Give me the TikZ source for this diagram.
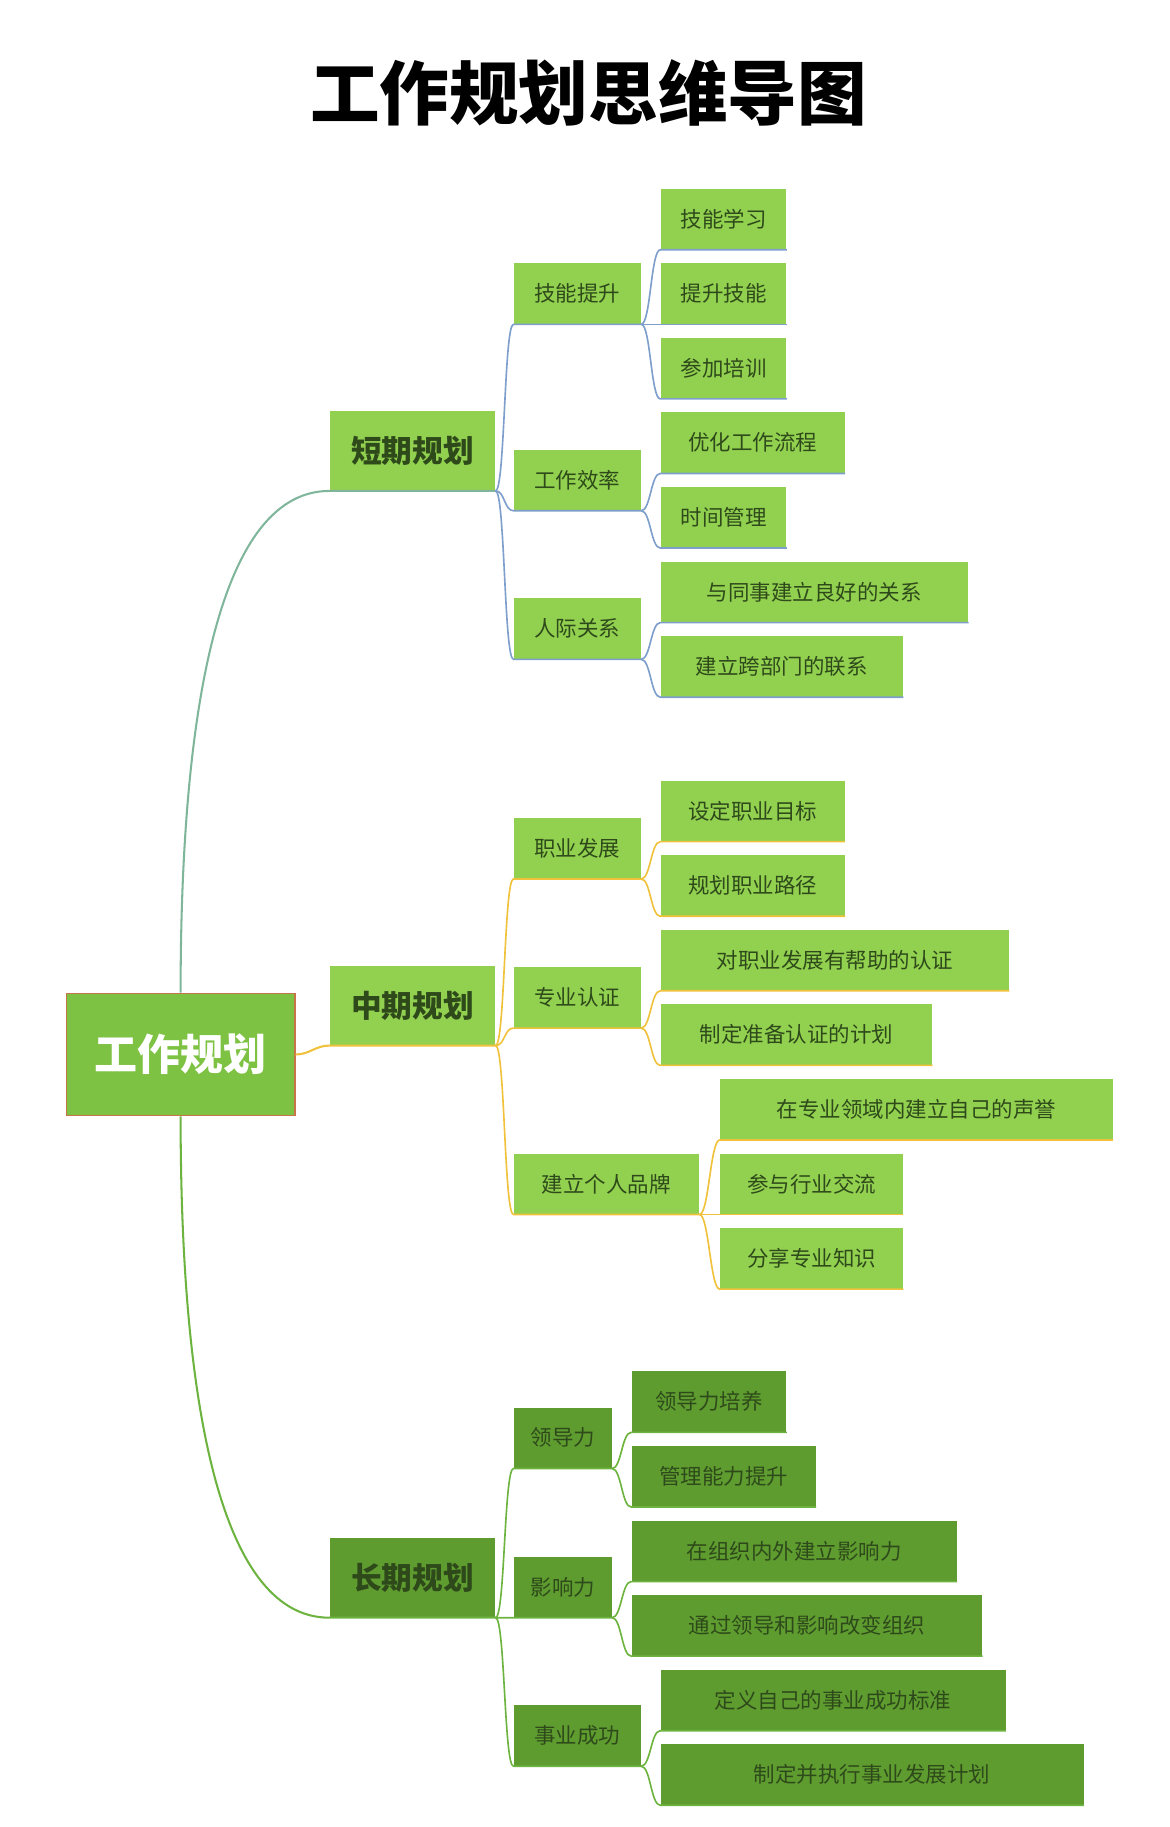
\documentclass[tikz,border=0pt]{standalone}
\usepackage{fontspec}
\setmainfont{Noto Sans CJK SC}
\usepackage{tikz}
\definecolor{leafgreen}{HTML}{92D050}
\definecolor{midgreen}{HTML}{7DC242}
\definecolor{darkleaf}{HTML}{5E9C30}
\definecolor{txtgreen}{HTML}{2E4A1A}
\definecolor{shortline}{HTML}{7E9FCB}
\definecolor{midline}{HTML}{F0C23C}
\definecolor{longline}{HTML}{6DB33F}
\definecolor{rootline}{HTML}{7FB59A}
\definecolor{rootedge}{HTML}{C8744A}

\begin{document}
\begin{tikzpicture}[
      x=0.02cm, y=-0.02cm,
      box/.style={fill=leafgreen, text=txtgreen, inner sep=0pt, font=\fontsize{10.5}{12}\selectfont},
      leaf/.style={box, minimum height=1.04cm},
      darkbox/.style={box, fill=darkleaf},
      topic/.style={box, minimum height=1.36cm, minimum width=2.84cm, font=\fontsize{15}{17}\bfseries\selectfont},
      sub/.style={box, minimum height=1.04cm},
      sline/.style={shortline, line width=0.8pt},
      mline/.style={midline, line width=0.8pt},
      lline/.style={longline, line width=0.8pt}
    ]
    \useasboundingbox (0,0) rectangle (1004,1568);

    % Title
    \node[font=\fontsize{34}{38}\bfseries\selectfont] (title) at (505,80) {工作规划思维导图};

    % Root
    \node[box, fill=midgreen, draw=rootedge, line width=0.8pt, text=white,
      minimum width=3.92cm, minimum height=2.1cm, font=\fontsize{21}{24}\bfseries\selectfont]
      (root) at (155,905) {工作规划};

    % Topics
    \node[topic] (short) at (354,387) {短期规划};
    \node[topic] (mid) at (354,863) {中期规划};
    \node[topic, fill=darkleaf] (long) at (354,1354) {长期规划};

    % Short term
    \node[sub, minimum width=2.18cm] (skill) at (495.5,252) {技能提升};
    \node[sub, minimum width=2.18cm] (effic) at (495.5,412) {工作效率};
    \node[sub, minimum width=2.18cm] (relat) at (495.5,539.5) {人际关系};
    \node[leaf, minimum width=2.16cm] (s1) at (621,188) {技能学习};
    \node[leaf, minimum width=2.16cm] (s2) at (621,252) {提升技能};
    \node[leaf, minimum width=2.16cm] (s3) at (621,316) {参加培训};
    \node[leaf, minimum width=3.16cm] (e1) at (646,380) {优化工作流程};
    \node[leaf, minimum width=2.16cm] (e2) at (621,444) {时间管理};
    \node[leaf, minimum width=5.28cm] (r1) at (699,508) {与同事建立良好的关系};
    \node[leaf, minimum width=4.16cm] (r2) at (671,572) {建立跨部门的联系};

    % Mid term
    \node[sub, minimum width=2.18cm] (career) at (495.5,728) {职业发展};
    \node[sub, minimum width=2.18cm] (cert) at (495.5,856) {专业认证};
    \node[sub, minimum width=3.18cm] (brand) at (520.5,1016) {建立个人品牌};
    \node[leaf, minimum width=3.16cm] (c1) at (646,696) {设定职业目标};
    \node[leaf, minimum width=3.16cm] (c2) at (646,760) {规划职业路径};
    \node[leaf, minimum width=5.98cm] (t1) at (716.5,824) {对职业发展有帮助的认证};
    \node[leaf, minimum width=4.66cm] (t2) at (683.5,888) {制定准备认证的计划};
    \node[leaf, minimum width=6.74cm] (b1) at (786.5,952) {在专业领域内建立自己的声誉};
    \node[leaf, minimum width=3.14cm] (b2) at (696.5,1016) {参与行业交流};
    \node[leaf, minimum width=3.14cm] (b3) at (696.5,1080) {分享专业知识};

    % Long term
    \node[darkbox, minimum height=1.04cm, minimum width=1.68cm] (lead) at (483,1234) {领导力};
    \node[darkbox, minimum height=1.04cm, minimum width=1.68cm] (infl) at (483,1362) {影响力};
    \node[darkbox, minimum height=1.04cm, minimum width=2.18cm] (succ) at (495.5,1489.5) {事业成功};
    \node[darkbox, minimum height=1.04cm, minimum width=2.66cm] (l1) at (608.5,1203) {领导力培养};
    \node[darkbox, minimum height=1.04cm, minimum width=3.16cm] (l2) at (621,1267) {管理能力提升};
    \node[darkbox, minimum height=1.04cm, minimum width=5.58cm] (i1) at (681.5,1331) {在组织内外建立影响力};
    \node[darkbox, minimum height=1.04cm, minimum width=6.02cm] (i2) at (692.5,1395) {通过领导和影响改变组织};
    \node[darkbox, minimum height=1.04cm, minimum width=5.92cm] (u1) at (715,1459) {定义自己的事业成功标准};
    \node[darkbox, minimum height=1.04cm, minimum width=7.26cm] (u2) at (748.5,1523) {制定并执行事业发展计划};

    % Root branches
    \draw[rootline, line width=1pt] (root.north) .. controls +(0,-260) and +(-90,0) .. (short.south west) -- (short.south east);
    \draw[midline, line width=1pt] (root.east) .. controls +(12,0) and +(-12,0) .. (mid.south west) -- (mid.south east);
    \draw[longline, line width=1pt] (root.south) .. controls +(0,260) and +(-90,0) .. (long.south west) -- (long.south east);

    % Short branches
    \foreach \c in {skill,effic,relat}
      \draw[sline] (short.south east) .. controls +(8,0) and +(-8,0) .. (\c.south west) -- (\c.south east);
    \foreach \c in {s1,s2,s3}
      \draw[sline] (skill.south east) .. controls +(8,0) and +(-8,0) .. (\c.south west) -- (\c.south east);
    \foreach \c in {e1,e2}
      \draw[sline] (effic.south east) .. controls +(8,0) and +(-8,0) .. (\c.south west) -- (\c.south east);
    \foreach \c in {r1,r2}
      \draw[sline] (relat.south east) .. controls +(8,0) and +(-8,0) .. (\c.south west) -- (\c.south east);

    % Mid branches
    \foreach \c in {career,cert,brand}
      \draw[mline] (mid.south east) .. controls +(8,0) and +(-8,0) .. (\c.south west) -- (\c.south east);
    \foreach \c in {c1,c2}
      \draw[mline] (career.south east) .. controls +(8,0) and +(-8,0) .. (\c.south west) -- (\c.south east);
    \foreach \c in {t1,t2}
      \draw[mline] (cert.south east) .. controls +(8,0) and +(-8,0) .. (\c.south west) -- (\c.south east);
    \foreach \c in {b1,b2,b3}
      \draw[mline] (brand.south east) .. controls +(8,0) and +(-8,0) .. (\c.south west) -- (\c.south east);

    % Long branches
    \foreach \c in {lead,infl,succ}
      \draw[lline] (long.south east) .. controls +(8,0) and +(-8,0) .. (\c.south west) -- (\c.south east);
    \foreach \c in {l1,l2}
      \draw[lline] (lead.south east) .. controls +(8,0) and +(-8,0) .. (\c.south west) -- (\c.south east);
    \foreach \c in {i1,i2}
      \draw[lline] (infl.south east) .. controls +(8,0) and +(-8,0) .. (\c.south west) -- (\c.south east);
    \foreach \c in {u1,u2}
      \draw[lline] (succ.south east) .. controls +(8,0) and +(-8,0) .. (\c.south west) -- (\c.south east);

  \end{tikzpicture}
\end{document}
